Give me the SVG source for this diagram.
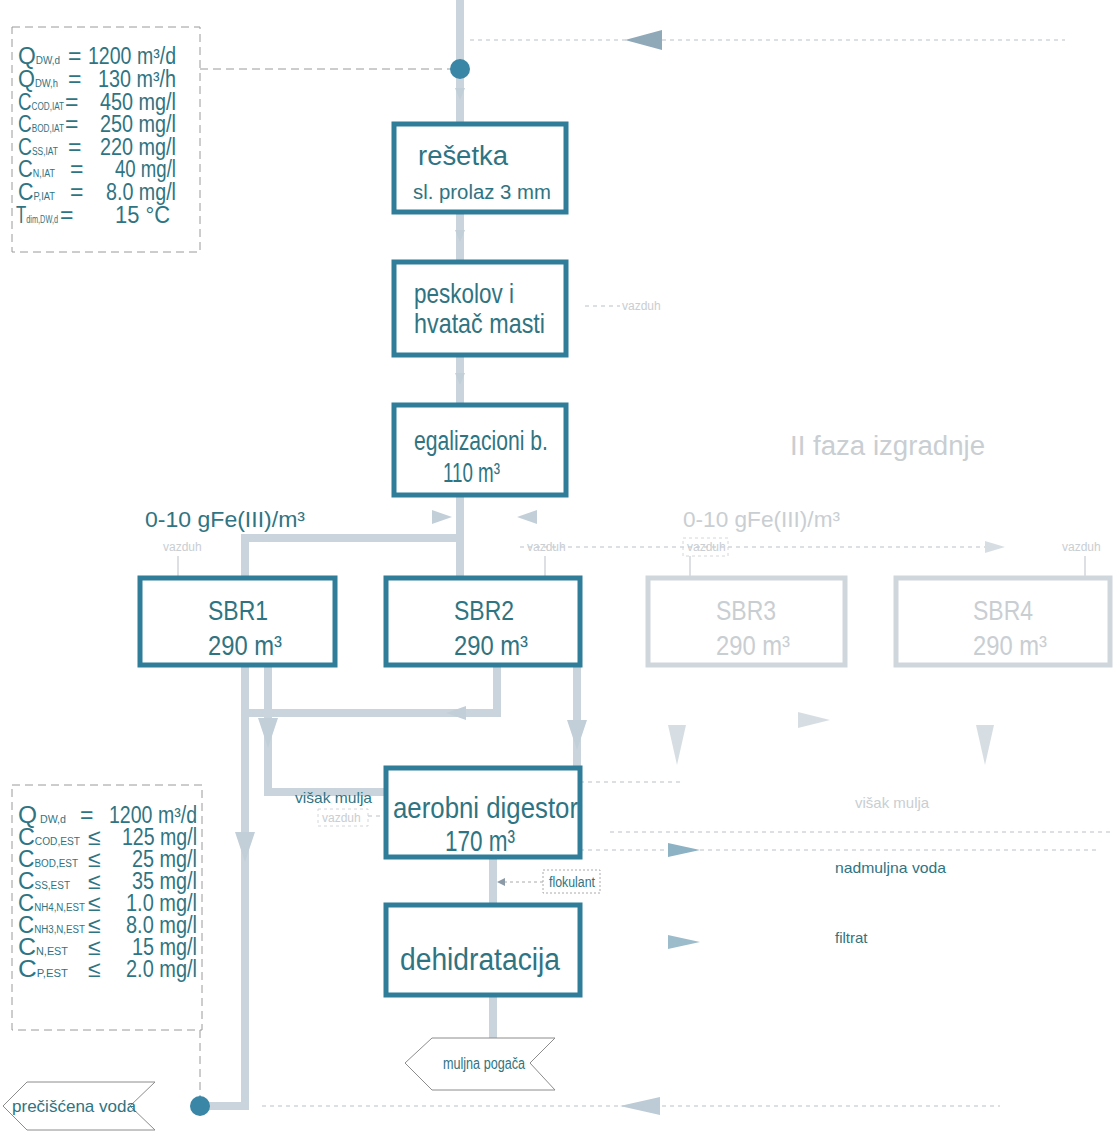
<svg xmlns="http://www.w3.org/2000/svg" width="1115" height="1136" viewBox="0 0 1115 1136">
<style>
.t{font-family:"Liberation Sans",Arial,sans-serif;fill:#2f7482}
.box{fill:#fff;stroke:#2f7d98;stroke-width:5}
.fbox{fill:#fff;stroke:#cfd7dd;stroke-width:5}
.ft{font-family:"Liberation Sans",Arial,sans-serif;fill:#c9ced2}
.conn{fill:none;stroke:#c9d4dc;stroke-width:8}
.pdash{fill:#fff;stroke:#9a9a9a;stroke-width:1;stroke-dasharray:8 5}
.fdash{fill:none;stroke:#d2d6da;stroke-width:1.5;stroke-dasharray:4 4}
.tri{fill:#c3cfd8}
.ftri{fill:#d7dee3}
.sub{font-size:10px}
.ribbon{fill:#fff;stroke:#8c8c8c;stroke-width:1}
</style>

<g id="connectors">
<path class="conn" d="M460,0 V124"/>
<path class="conn" d="M460,212 V262"/>
<path class="conn" d="M460,355 V405"/>
<path class="conn" d="M460,495 V578"/>
<path class="conn" d="M460,538 H245 V578"/>
<path class="conn" d="M245,665 V1106 H200"/>
<path class="conn" d="M268,665 V792 H386"/>
<path class="conn" d="M497,665 V713 H245"/>
<path class="conn" d="M577,665 V768"/>
<path class="conn" d="M493,857 V905"/>
<path class="conn" d="M493,995 V1038"/>
<polygon class="tri" points="455,88 465,88 460,100"/>
<polygon class="tri" points="455,230 465,230 460,242"/>
<polygon class="tri" points="455,373 465,373 460,385"/>
<polygon class="tri" points="258,718 278,718 268,748"/>
<polygon class="tri" points="235,832 255,832 245,862"/>
<polygon class="tri" points="567,720 587,720 577,750"/>
<polygon class="tri" points="466,706 466,720 446,713"/>
<polygon class="tri" points="432,510 452,517 432,524"/>
<polygon class="tri" points="537,510 517,517 537,524"/>
<polygon class="ftri" points="668,725 686,725 677,765"/>
<polygon class="ftri" points="976,725 994,725 985,765"/>
<polygon class="ftri" points="798,712 830,720 798,728"/>
<path class="fdash" d="M520,547 H985"/>
<polygon class="ftri" points="985,541 1005,547 985,553"/>
<path class="pdash" d="M200,69 H452" fill="none"/>
<circle cx="460" cy="69" r="10" fill="#3a86a6"/>
<path class="fdash" d="M470,40 H1065"/>
<polygon points="625,40 662,30 662,50" fill="#8fa9b9"/>
<path class="pdash" d="M200,1030 V1098" fill="none"/>
<circle cx="200" cy="1106" r="10" fill="#3a86a6"/>
<path class="fdash" d="M262,1106 H1000"/>
<polygon points="620,1106 660,1097 660,1115" fill="#bccbd6"/>
<path class="fdash" d="M580,782 H680"/>
<path class="fdash" d="M610,832 H1110"/>
<path class="fdash" d="M580,850 H1100"/>
<polygon points="668,843 700,850 668,857" fill="#8db2c4"/>
<polygon points="668,935 700,942 668,949" fill="#9dbccb"/>
<path d="M543,882 H503" fill="none" stroke="#aaa" stroke-width="1" stroke-dasharray="3 3"/>
<polygon points="497,882 505,878 505,886" fill="#8a9aa6"/>
<path class="fdash" d="M368,816 H386"/>
<path class="fdash" d="M585,306 H620"/>
<path d="M178,556 V578 M545,556 V578 M690,556 V578 M1085,556 V578" stroke="#d2d6da" stroke-width="1.5"/>
</g>

<g id="params-in">
<rect class="pdash" x="12" y="27" width="188" height="225"/>
<g class="t" font-size="23">
<text x="18" y="64" textLength="42" lengthAdjust="spacingAndGlyphs">Q<tspan class="sub">DW,d</tspan></text><text x="68" y="64">=</text><text x="176" y="64" text-anchor="end" textLength="88" lengthAdjust="spacingAndGlyphs">1200 m³/d</text>
<text x="18" y="87" textLength="40" lengthAdjust="spacingAndGlyphs">Q<tspan class="sub">DW,h</tspan></text><text x="68" y="87">=</text><text x="176" y="87" text-anchor="end" textLength="78" lengthAdjust="spacingAndGlyphs">130 m³/h</text>
<text x="18" y="110" textLength="46" lengthAdjust="spacingAndGlyphs">C<tspan class="sub">COD,IAT</tspan></text><text x="65" y="110">=</text><text x="176" y="110" text-anchor="end" textLength="76" lengthAdjust="spacingAndGlyphs">450 mg/l</text>
<text x="18" y="132" textLength="46" lengthAdjust="spacingAndGlyphs">C<tspan class="sub">BOD,IAT</tspan></text><text x="65" y="132">=</text><text x="176" y="132" text-anchor="end" textLength="76" lengthAdjust="spacingAndGlyphs">250 mg/l</text>
<text x="18" y="155" textLength="40" lengthAdjust="spacingAndGlyphs">C<tspan class="sub">SS,IAT</tspan></text><text x="68" y="155">=</text><text x="176" y="155" text-anchor="end" textLength="76" lengthAdjust="spacingAndGlyphs">220 mg/l</text>
<text x="18" y="177" textLength="37" lengthAdjust="spacingAndGlyphs">C<tspan class="sub">N,IAT</tspan></text><text x="70" y="177">=</text><text x="176" y="177" text-anchor="end" textLength="61" lengthAdjust="spacingAndGlyphs">40 mg/l</text>
<text x="18" y="200" textLength="37" lengthAdjust="spacingAndGlyphs">C<tspan class="sub">P,IAT</tspan></text><text x="70" y="200">=</text><text x="176" y="200" text-anchor="end" textLength="70" lengthAdjust="spacingAndGlyphs">8.0 mg/l</text>
<text x="16" y="223" textLength="42" lengthAdjust="spacingAndGlyphs">T<tspan class="sub">dim,DW,d</tspan></text><text x="60" y="223">=</text><text x="170" y="223" text-anchor="end" textLength="55" lengthAdjust="spacingAndGlyphs">15 °C</text>
</g>
</g>

<g id="resetka">
<rect class="box" x="394" y="124" width="172" height="88"/>
<text class="t" x="418" y="165" font-size="27" textLength="90" lengthAdjust="spacingAndGlyphs">rešetka</text>
<text class="t" x="413" y="199" font-size="20" textLength="138" lengthAdjust="spacingAndGlyphs">sl. prolaz 3 mm</text>
</g>
<g id="peskolov">
<rect class="box" x="394" y="262" width="172" height="93"/>
<text class="t" x="414" y="303" font-size="28" textLength="100" lengthAdjust="spacingAndGlyphs">peskolov i</text>
<text class="t" x="414" y="333" font-size="28" textLength="131" lengthAdjust="spacingAndGlyphs">hvatač masti</text>
<text class="ft" x="622" y="310" font-size="12">vazduh</text>
</g>
<g id="egalizacioni">
<rect class="box" x="394" y="405" width="172" height="90"/>
<text class="t" x="414" y="450" font-size="27" textLength="134" lengthAdjust="spacingAndGlyphs">egalizacioni b.</text>
<text class="t" x="443" y="482" font-size="27" textLength="57" lengthAdjust="spacingAndGlyphs">110 m³</text>
</g>

<text class="ft" x="790" y="455" font-size="27" textLength="195" lengthAdjust="spacingAndGlyphs">II faza izgradnje</text>
<text class="t" x="145" y="527" font-size="22" textLength="160" lengthAdjust="spacingAndGlyphs">0-10 gFe(III)/m³</text>
<text class="ft" x="683" y="527" font-size="22" textLength="157" lengthAdjust="spacingAndGlyphs">0-10 gFe(III)/m³</text>

<g id="sbr1">
<rect class="box" x="140" y="578" width="195" height="87"/>
<text class="t" x="238" y="620" font-size="28" text-anchor="middle" textLength="60" lengthAdjust="spacingAndGlyphs">SBR1</text>
<text class="t" x="245" y="655" font-size="28" text-anchor="middle" textLength="74" lengthAdjust="spacingAndGlyphs">290 m³</text>
<text class="ft" x="163" y="551" font-size="12">vazduh</text>
</g>
<g id="sbr2">
<rect class="box" x="386" y="578" width="194" height="87"/>
<text class="t" x="484" y="620" font-size="28" text-anchor="middle" textLength="60" lengthAdjust="spacingAndGlyphs">SBR2</text>
<text class="t" x="491" y="655" font-size="28" text-anchor="middle" textLength="74" lengthAdjust="spacingAndGlyphs">290 m³</text>
<text class="ft" x="527" y="551" font-size="12">vazduh</text>
</g>
<g id="sbr3">
<rect class="fbox" x="648" y="578" width="197" height="87"/>
<text class="ft" x="746" y="620" font-size="28" text-anchor="middle" textLength="60" lengthAdjust="spacingAndGlyphs">SBR3</text>
<text class="ft" x="753" y="655" font-size="28" text-anchor="middle" textLength="74" lengthAdjust="spacingAndGlyphs">290 m³</text>
<rect x="683" y="538" width="45" height="18" fill="none" stroke="#d2d6da" stroke-width="1" stroke-dasharray="3 3"/>
<text class="ft" x="687" y="551" font-size="12">vazduh</text>
</g>
<g id="sbr4">
<rect class="fbox" x="896" y="578" width="214" height="87"/>
<text class="ft" x="1003" y="620" font-size="28" text-anchor="middle" textLength="60" lengthAdjust="spacingAndGlyphs">SBR4</text>
<text class="ft" x="1010" y="655" font-size="28" text-anchor="middle" textLength="74" lengthAdjust="spacingAndGlyphs">290 m³</text>
<text class="ft" x="1062" y="551" font-size="12">vazduh</text>
</g>

<g id="aerobni">
<rect class="box" x="386" y="768" width="194" height="89"/>
<text class="t" x="393" y="818" font-size="30" textLength="185" lengthAdjust="spacingAndGlyphs">aerobni digestor</text>
<text class="t" x="445" y="851" font-size="30" textLength="70" lengthAdjust="spacingAndGlyphs">170 m³</text>
<text class="t" x="295" y="803" font-size="15" textLength="77" lengthAdjust="spacingAndGlyphs">višak mulja</text>
<rect x="318" y="809" width="50" height="17" fill="none" stroke="#d2d6da" stroke-width="1" stroke-dasharray="3 3"/>
<text class="ft" x="322" y="822" font-size="12">vazduh</text>
</g>
<text class="ft" x="855" y="808" font-size="15">višak mulja</text>
<text class="t" x="835" y="873" font-size="15" textLength="111" lengthAdjust="spacingAndGlyphs">nadmuljna voda</text>
<text class="t" x="835" y="943" font-size="15">filtrat</text>

<g id="flokulant">
<rect x="543" y="870" width="57" height="23" fill="#fff" stroke="#aaa" stroke-width="1" stroke-dasharray="2 2"/>
<text class="t" x="549" y="887" font-size="14" textLength="46" lengthAdjust="spacingAndGlyphs">flokulant</text>
</g>

<g id="dehidratacija">
<rect class="box" x="386" y="905" width="194" height="90"/>
<text class="t" x="400" y="970" font-size="31" textLength="160" lengthAdjust="spacingAndGlyphs">dehidratacija</text>
</g>

<g id="muljna-pogaca">
<polygon class="ribbon" points="405,1063 432,1038 555,1038 530,1063 555,1090 432,1090"/>
<text class="t" x="443" y="1069" font-size="16" textLength="82" lengthAdjust="spacingAndGlyphs">muljna pogača</text>
</g>

<g id="params-out">
<rect class="pdash" x="12" y="785" width="190" height="245"/>
<g class="t" font-size="23">
<text x="18" y="823" textLength="48" lengthAdjust="spacingAndGlyphs">Q<tspan class="sub"> DW,d</tspan></text><text x="80" y="823">=</text><text x="197" y="823" text-anchor="end" textLength="88" lengthAdjust="spacingAndGlyphs">1200 m³/d</text>
<text x="18" y="845" textLength="62" lengthAdjust="spacingAndGlyphs">C<tspan class="sub">COD,EST</tspan></text><text x="88" y="845">≤</text><text x="197" y="845" text-anchor="end" textLength="75" lengthAdjust="spacingAndGlyphs">125 mg/l</text>
<text x="18" y="867" textLength="60" lengthAdjust="spacingAndGlyphs">C<tspan class="sub">BOD,EST</tspan></text><text x="88" y="867">≤</text><text x="197" y="867" text-anchor="end" textLength="65" lengthAdjust="spacingAndGlyphs">25 mg/l</text>
<text x="18" y="889" textLength="52" lengthAdjust="spacingAndGlyphs">C<tspan class="sub">SS,EST</tspan></text><text x="88" y="889">≤</text><text x="197" y="889" text-anchor="end" textLength="65" lengthAdjust="spacingAndGlyphs">35 mg/l</text>
<text x="18" y="911" textLength="67" lengthAdjust="spacingAndGlyphs">C<tspan class="sub">NH4,N,EST</tspan></text><text x="88" y="911">≤</text><text x="197" y="911" text-anchor="end" textLength="71" lengthAdjust="spacingAndGlyphs">1.0 mg/l</text>
<text x="18" y="933" textLength="67" lengthAdjust="spacingAndGlyphs">C<tspan class="sub">NH3,N,EST</tspan></text><text x="88" y="933">≤</text><text x="197" y="933" text-anchor="end" textLength="71" lengthAdjust="spacingAndGlyphs">8.0 mg/l</text>
<text x="18" y="955" textLength="50" lengthAdjust="spacingAndGlyphs">C<tspan class="sub">N,EST</tspan></text><text x="88" y="955">≤</text><text x="197" y="955" text-anchor="end" textLength="65" lengthAdjust="spacingAndGlyphs">15 mg/l</text>
<text x="18" y="977" textLength="50" lengthAdjust="spacingAndGlyphs">C<tspan class="sub">P,EST</tspan></text><text x="88" y="977">≤</text><text x="197" y="977" text-anchor="end" textLength="71" lengthAdjust="spacingAndGlyphs">2.0 mg/l</text>
</g>
</g>

<g id="preciscena-voda">
<polygon class="ribbon" points="3,1106 27,1082 155,1082 130,1106 155,1130 27,1130"/>
<text class="t" x="12" y="1112" font-size="17" textLength="124" lengthAdjust="spacingAndGlyphs">prečišćena voda</text>
</g>
</svg>
